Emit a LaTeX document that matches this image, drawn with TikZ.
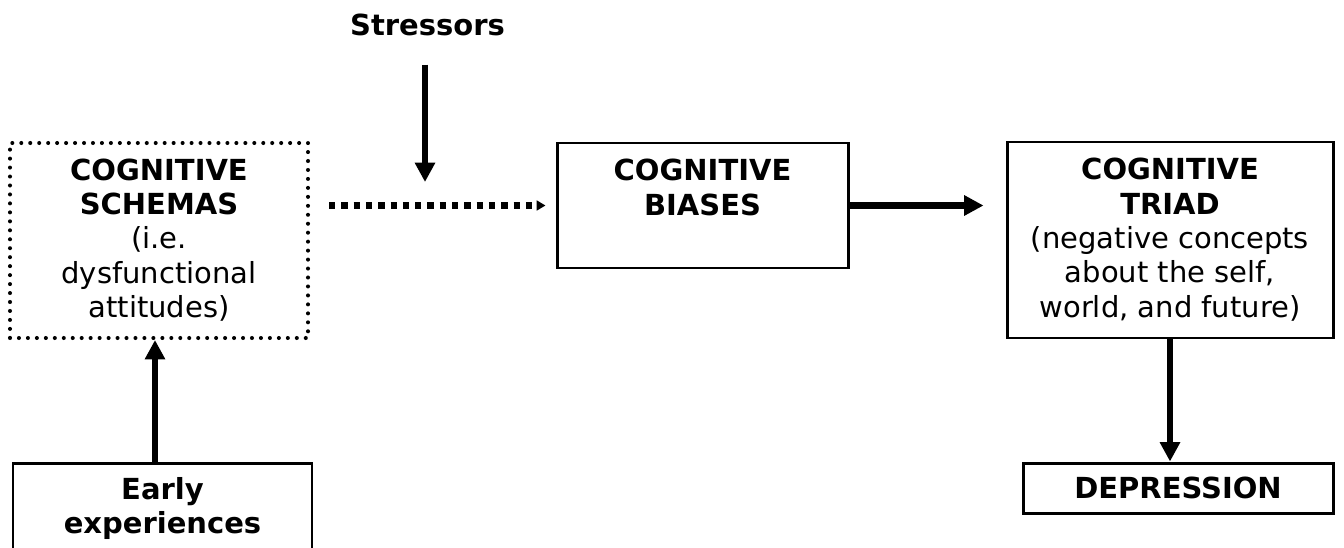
\documentclass[tikz,border=0pt]{standalone}
\usepackage{fontspec}
\setmainfont{DejaVu Sans}
\usetikzlibrary{arrows.meta, positioning}

\begin{document}
\begin{tikzpicture}[
    every node/.style={font=\fontsize{16.5}{19.5}\selectfont},
    box/.style={draw, line width=1.7pt, inner sep=0pt},
    dotbox/.style={line width=2.3pt, line cap=round, dash pattern=on 0pt off 5.1pt},
    boxtext/.style={anchor=north, align=center, inner sep=10pt},
    arr/.style={line width=3.8pt, -{Triangle[length=11pt,width=11pt]}},
    dotarr/.style={line width=3.6pt, dash pattern=on 3.6pt off 3.4pt, -{Triangle[length=5pt,width=5.5pt]}}
]
\path[use as bounding box, clip] (0,0) rectangle (26.88,-10.94);
% Boxes
\node[box, dotbox, minimum width=5.96cm, minimum height=3.90cm] (schemas) at (3.18,-4.81) {};
\node[box, minimum width=5.82cm, minimum height=2.50cm] (biases) at (14.05,-4.11) {};
\node[box, minimum width=6.52cm, minimum height=3.92cm] (triad) at (23.40,-4.80) {};
\node[box, minimum width=6.20cm, minimum height=1.00cm, font=\fontsize{16.5}{19.5}\selectfont\bfseries] (depression) at (23.56,-9.76) {DEPRESSION};
\node[box, minimum width=5.98cm, minimum height=2.74cm] (early) at (3.25,-10.63) {};
% Box texts
\node[boxtext] (schemastext) at (schemas.north) {\textbf{COGNITIVE}\\\textbf{SCHEMAS}\\(i.e.\\dysfunctional\\attitudes)};
\node[boxtext] (biasestext) at (biases.north) {\textbf{COGNITIVE}\\\textbf{BIASES}};
\node[boxtext] (triadtext) at (triad.north) {\textbf{COGNITIVE}\\\textbf{TRIAD}\\(negative concepts\\about the self,\\world, and future)};
\node[boxtext, inner sep=9pt] (earlytext) at (early.north) {\textbf{Early}\\\textbf{experiences}};
% Stressors
\node[font=\fontsize{16.5}{19.5}\selectfont\bfseries] (stressors) at (8.55,-0.50) {Stressors};
\coordinate (hit) at (8.50,-3.64);
% Connections
\draw[arr, shorten <=0.45cm] (stressors.south -| hit) -- (hit);
\draw[dotarr, shorten <=0.38cm, shorten >=0.20cm] (schemas.east |- biases.west) -- (biases.west);
\draw[arr, shorten >=0.44cm] (biases.east) -- (biases.east -| triad.west);
\draw[arr] (triad.south) -- (triad.south |- depression.north);
\draw[arr] ([xshift=-0.15cm]early.north) -- ([xshift=-0.15cm]early.north |- schemas.south);
\end{tikzpicture}
\end{document}
